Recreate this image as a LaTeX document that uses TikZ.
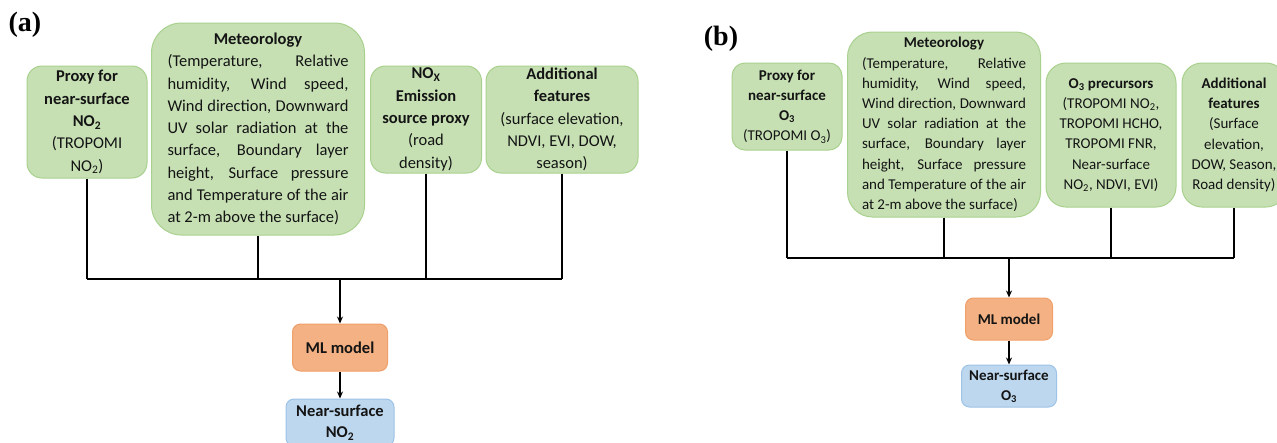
\documentclass[tikz,border=0pt]{standalone}
\usepackage{fontspec}
\setmainfont{Carlito}
\newfontfamily\labelfont{Liberation Serif}
\usetikzlibrary{arrows.meta}
\definecolor{gfill}{HTML}{C6E0B4}
\definecolor{gdraw}{HTML}{A9D18E}
\definecolor{ofill}{HTML}{F4B183}
\definecolor{odraw}{HTML}{F0A06A}
\definecolor{bfill}{HTML}{BDD7EE}
\definecolor{bdraw}{HTML}{9DC3E6}
\definecolor{txt}{HTML}{141414}
\newcommand{\jla}[1]{\makebox[181pt][s]{#1}}
\newcommand{\jlb}[1]{\makebox[164pt][s]{#1}}
\tikzset{
  fa/.style={font=\fontsize{16.5pt}{22.3pt}\selectfont},
  fb/.style={font=\fontsize{15pt}{20.2pt}\selectfont},
  gbox/.style={draw=gdraw, fill=gfill, line width=1pt, text=txt, inner sep=0pt, align=center},
  obox/.style={draw=odraw, fill=ofill, line width=1pt, text=txt, inner sep=0pt, align=center, rounded corners=8pt},
  bbox/.style={draw=bdraw, fill=bfill, line width=1pt, text=txt, inner sep=0pt, align=center, rounded corners=8pt},
  conn/.style={line width=1.8pt, black},
  arr/.style={line width=1.8pt, black, -{Stealth[length=7pt,width=6pt]}},
  plabel/.style={font=\labelfont\bfseries\fontsize{28pt}{30pt}\selectfont, inner sep=0pt}
}
\begin{document}
\begin{tikzpicture}[x=1pt,y=-1pt]
\useasboundingbox (0,0) rectangle (1277,442);
\clip (0,0) rectangle (1277,442);
\fill[white] (0,0) rectangle (1277,442);

% ---------- panel (a) ----------
\node[plabel] (la) at (25,25) {(a)};

\node[gbox, fa, rounded corners=15pt, minimum width=120pt, minimum height=112pt] (pa) at (87,122)
  {\textbf{Proxy for}\\ \textbf{near-surface}\\ \textbf{NO\textsubscript{2}}\\ (TROPOMI\\ NO\textsubscript{2})};

\node[gbox, fa, rounded corners=30pt, minimum width=213pt, minimum height=212pt, text width=181pt, align=justify] (ma) at (258,129)
  {\spaceskip=0pt\xspaceskip=0pt
   \makebox[181pt][c]{\textbf{Meteorology}}\\
   \jla{(Temperature, Relative}\\
   \jla{humidity, Wind speed,}\\
   \jla{Wind direction, Downward}\\
   \jla{UV solar radiation at the}\\
   \jla{surface, Boundary layer}\\
   \jla{height, Surface pressure}\\
   \jla{and Temperature of the air}\\
   \makebox[181pt][l]{at 2-m above the surface)}};

\node[gbox, fa, rounded corners=15pt, minimum width=111pt, minimum height=107pt] (na) at (426,119.5)
  {\textbf{NO\textsubscript{X}}\\ \textbf{Emission}\\ \textbf{source proxy}\\ (road\\ density)};

\node[gbox, fa, rounded corners=15pt, minimum width=152pt, minimum height=107pt] (aa) at (562,119.5)
  {\textbf{Additional}\\ \textbf{features}\\ (surface elevation,\\ NDVI, EVI, DOW,\\ season)};

\coordinate (busa) at (340,279);
\draw[conn] (pa.south) -- (pa.south |- busa);
\draw[conn] (ma.south) -- (ma.south |- busa);
\draw[conn] (na.south) -- (na.south |- busa);
\draw[conn] (aa.south) -- (aa.south |- busa);
\draw[conn] (pa.south |- busa) -- (aa.south |- busa);

\node[obox, fa, minimum width=95pt, minimum height=47pt] (mla) at (340,347.5) {\textbf{ML model}};
\node[bbox, fa, minimum width=108pt, minimum height=47pt, font=\fontsize{16.5pt}{21pt}\selectfont] (oa) at (340,422.5)
  {\textbf{Near-surface}\\ \textbf{NO\textsubscript{2}}};

\draw[arr] (busa) -- (mla.north);
\draw[arr] (mla.south) -- (oa.north);

% ---------- panel (b) ----------
\node[plabel] (lb) at (721,39) {(b)};

\node[gbox, fb, rounded corners=13pt, minimum width=110pt, minimum height=87pt] (pb) at (787,106.5)
  {\textbf{Proxy for}\\ \textbf{near-surface}\\ \textbf{O\textsubscript{3}}\\ (TROPOMI O\textsubscript{3})};

\node[gbox, fb, rounded corners=25pt, minimum width=193pt, minimum height=185pt, text width=164pt, align=justify] (mb) at (944,124.5)
  {\spaceskip=0pt\xspaceskip=0pt
   \makebox[164pt][c]{\textbf{Meteorology}}\\
   \jlb{(Temperature, Relative}\\
   \jlb{humidity, Wind speed,}\\
   \jlb{Wind direction, Downward}\\
   \jlb{UV solar radiation at the}\\
   \jlb{surface, Boundary layer}\\
   \jlb{height, Surface pressure}\\
   \jlb{and Temperature of the air}\\
   \makebox[164pt][l]{at 2-m above the surface)}};

\node[gbox, fb, rounded corners=20pt, minimum width=130pt, minimum height=144pt] (ob) at (1111,135)
  {\textbf{O\textsubscript{3} precursors}\\ (TROPOMI NO\textsubscript{2},\\ TROPOMI HCHO,\\ TROPOMI FNR,\\ Near-surface\\ NO\textsubscript{2}, NDVI, EVI)};

\node[gbox, fb, rounded corners=20pt, minimum width=104pt, minimum height=144pt] (ab) at (1234,135)
  {\textbf{Additional}\\ \textbf{features}\\ (Surface\\ elevation,\\ DOW, Season,\\ Road density)};

\coordinate (busb) at (1009,258);
\draw[conn] (pb.south) -- (pb.south |- busb);
\draw[conn] (mb.south) -- (mb.south |- busb);
\draw[conn] (ob.south) -- (ob.south |- busb);
\draw[conn] (ab.south) -- (ab.south |- busb);
\draw[conn] (pb.south |- busb) -- (ab.south |- busb);

\node[obox, fb, minimum width=87pt, minimum height=42pt] (mlb) at (1009,319) {\textbf{ML model}};
\node[bbox, fb, minimum width=95pt, minimum height=42pt] (outb) at (1009,386)
  {\textbf{Near-surface}\\ \textbf{O\textsubscript{3}}};

\draw[arr] (busb) -- (mlb.north);
\draw[arr] (mlb.south) -- (outb.north);
\end{tikzpicture}
\end{document}
